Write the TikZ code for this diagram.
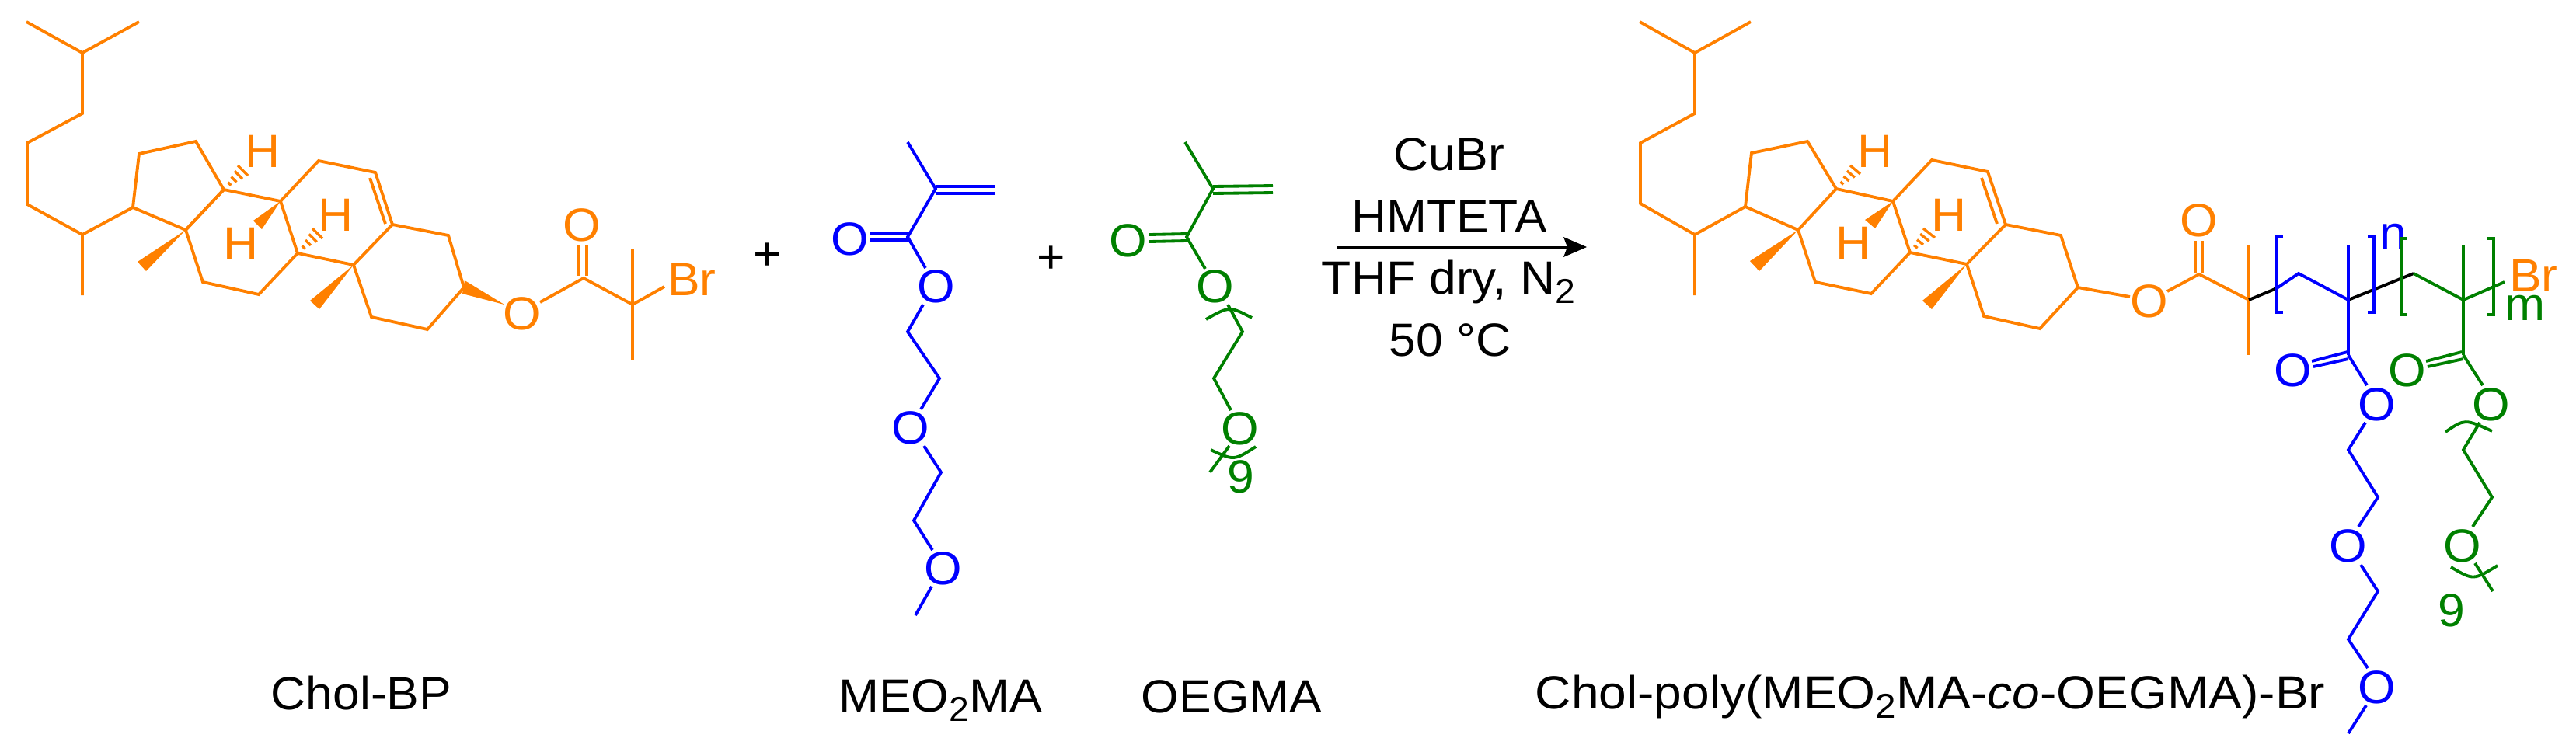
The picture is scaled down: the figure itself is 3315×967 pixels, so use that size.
\documentclass[tikz,border=0pt]{standalone}
\usepackage{fontspec}
\setmainfont[FakeStretch=1.04]{Liberation Sans}
\usetikzlibrary{calc}
\definecolor{cholc}{HTML}{FF8000}
\definecolor{meoc}{HTML}{0000FF}
\definecolor{oegc}{HTML}{008000}
\newcommand{\chemsub}[1]{\raisebox{-2.9pt}{\fontsize{10.7}{12}\selectfont #1}}
% hashed bond: apex, last-dash end A, last-dash end B
\newcommand{\hashbond}[3]{%
  \foreach \f in {0.3,0.53,0.77,1}{%
    \draw[bond,line width=0.8pt] ($#1!\f!#2$) -- ($#1!\f!#3$);}}
\tikzset{
  bond/.style={line width=0.92pt,line join=miter,line cap=butt},
  atom/.style={inner sep=0pt,outer sep=0pt,font=\fontsize{14.4}{16}\selectfont},
  lab/.style={inner sep=0pt,outer sep=0pt,anchor=base,font=\fontsize{14.4}{16}\selectfont,text=black},
}
\begin{document}
\begin{tikzpicture}[x=0.24pt,y=-0.24pt]
\useasboundingbox (0,0) rectangle (3315,967);
%% ---------- Chol-BP ----------
\begin{scope}[color=cholc]
\draw[bond] (34,28) -- (106,68) -- (179,28);
\draw[bond] (106,68) -- (106,146) -- (35,184) -- (35,263) -- (106,302) -- (106,380);
\draw[bond] (106,302) -- (171,267);
\draw[bond] (171,267) -- (179,198) -- (252,182) -- (288,244) -- (239,296) -- cycle;
\draw[bond] (288,244) -- (239,296);
\draw[bond] (288,244) -- (361,259) -- (410,207) -- (483,222) -- (505,289) -- (455,341) -- (383,326) -- (361,259);
\draw[bond] (239,296) -- (261,363) -- (333,379) -- (383,326);
\draw[bond] (476,229) -- (496,288);
\draw[bond] (455,341) -- (478,408) -- (550,424) -- (597,370) -- (577,303) -- (505,289);
\fill[cholc] (239,296) -- (177,337) -- (188,349) -- cycle;
\fill[cholc] (455,341) -- (399,387) -- (411,398) -- cycle;
\fill[cholc] (361,259) -- (326,284) -- (337,295) -- cycle;
\fill[cholc] (598,361) -- (595,378) -- (649,392) -- cycle;
\hashbond{(288,244)}{(306,213)}{(319,226)}
\hashbond{(383,326)}{(402,294)}{(415,307)}
\node[atom,text=cholc] (cH1) at (338,195) {H};
\node[atom,text=cholc] (cH2) at (432,277) {H};
\node[atom,text=cholc] (cH3) at (310,314) {H};
\node[atom,text=cholc] (cO1) at (672,404) {O};
\node[atom,text=cholc] (cO2) at (749,290) {O};
\node[atom,text=cholc,anchor=base west] (cBr) at (859,380) {Br};
\draw[bond] (695,389) -- (751,358) -- (814,392);
\draw[bond] (744,315) -- (744,355);
\draw[bond] (755,315) -- (755,355);
\draw[bond] (814,321) -- (814,463);
\draw[bond] (814,392) -- (855,369);
\end{scope}
\node[atom] (plus1) at (988,330) {+};
\node[atom] (plus2) at (1353,334) {+};
%% ---------- MEO2MA ----------
\begin{scope}[color=meoc]
\draw[bond] (1168,183) -- (1204,243) -- (1168,305) -- (1191,345);
\draw[bond] (1204,240) -- (1281,240);
\draw[bond] (1204,249) -- (1281,249);
\draw[bond] (1120,301) -- (1168,301);
\draw[bond] (1120,309) -- (1168,309);
\node[atom,text=meoc] (mO1) at (1094,308) {O};
\node[atom,text=meoc] (mO2) at (1205,369) {O};
\node[atom,text=meoc] (mO3) at (1172,551) {O};
\node[atom,text=meoc] (mO4) at (1214,732) {O};
\draw[bond] (1188,392) -- (1168,427) -- (1209,487) -- (1185,527);
\draw[bond] (1189,574) -- (1211,608) -- (1176,670) -- (1200,708);
\draw[bond] (1199,755) -- (1178,792);
\end{scope}
%% ---------- OEGMA ----------
\begin{scope}[color=oegc]
\draw[bond] (1525,183) -- (1561,243) -- (1527,305) -- (1551,346);
\draw[bond] (1561,240) -- (1638,239);
\draw[bond] (1561,249) -- (1638,248);
\draw[bond] (1479,302) -- (1527,301);
\draw[bond] (1479,311) -- (1527,310);
\node[atom,text=oegc] (oO1) at (1452,310) {O};
\node[atom,text=oegc] (oO2) at (1564,369) {O};
\node[atom,text=oegc] (oO3) at (1596,552) {O};
\node[atom,text=oegc,anchor=base] (o9) at (1597,634) {9};
\draw[bond] (1580,392) -- (1599,427) -- (1562,487) -- (1584,528);
\draw[bond] (1582,574) -- (1557,608);
\draw[bond] (1552,411) .. controls (1582,394) .. (1611,409);
\draw[bond] (1558,579) .. controls (1588,593) .. (1616,575);
\end{scope}
%% ---------- reaction arrow ----------
\coordinate (arrS) at (1721,318);
\coordinate (arrN) at (2017,318);
\coordinate (arrT) at (2042,318);
\draw[line width=0.72pt] (arrS) -- (arrN);
\fill (arrT) -- (2012,305) -- (arrN) -- (2012,331) -- cycle;
\node[lab] (r1) at (1865,219) {CuBr};
\node[lab] (r2) at (1865,299) {HMTETA};
\node[lab] (r3) at (1864,378) {THF dry, N\chemsub{2}};
\node[lab] (r4) at (1866,458) {50 °C};
%% ---------- product: Chol part ----------
\begin{scope}[color=cholc]
\draw[bond] (2110,28) -- (2181,68) -- (2253,28);
\draw[bond] (2181,68) -- (2181,146) -- (2111,184) -- (2111,262) -- (2181,302) -- (2181,380);
\draw[bond] (2181,302) -- (2246,266);
\draw[bond] (2246,266) -- (2254,197) -- (2326,182) -- (2363,243) -- (2314,296) -- cycle;
\draw[bond] (2363,243) -- (2436,259) -- (2486,206) -- (2558,221) -- (2581,289) -- (2531,340) -- (2458,325) -- (2436,259);
\draw[bond] (2314,296) -- (2336,363) -- (2408,378) -- (2458,325);
\draw[bond] (2550,229) -- (2570,288);
\draw[bond] (2531,340) -- (2553,407) -- (2625,423) -- (2674,370) -- (2652,303) -- (2581,289);
\draw[bond] (2674,370) -- (2741,382);
\fill[cholc] (2314,296) -- (2252,336) -- (2264,349) -- cycle;
\fill[cholc] (2531,340) -- (2474,387) -- (2486,398) -- cycle;
\fill[cholc] (2436,259) -- (2400,283) -- (2413,294) -- cycle;
\hashbond{(2363,243)}{(2381,213)}{(2394,224)}
\hashbond{(2458,325)}{(2475,294)}{(2490,306)}
\node[atom,text=cholc] (pH1) at (2413,195) {H};
\node[atom,text=cholc] (pH2) at (2508,277) {H};
\node[atom,text=cholc] (pH3) at (2385,313) {H};
\node[atom,text=cholc] (pO1) at (2766,388) {O};
\node[atom,text=cholc] (pO2) at (2830,284) {O};
\draw[bond] (2789,375) -- (2830,353) -- (2894,386);
\draw[bond] (2825,310) -- (2825,352);
\draw[bond] (2834,310) -- (2834,352);
\draw[bond] (2894,316) -- (2894,457);
\node[atom,text=cholc,anchor=base west] (pBr) at (3229,375) {Br};
\end{scope}
%% ---------- product: backbone ----------
\draw[bond,black] (2894,386) -- (2930,371);
\draw[bond,black] (3022,386) -- (3106,352);
\begin{scope}[color=meoc]
\draw[bond] (2930,371) -- (2958,352) -- (3022,386);
\draw[bond] (2938,304) -- (2930,304) -- (2930,402) -- (2938,402);
\draw[bond] (3047,304) -- (3055,304) -- (3055,402) -- (3047,402);
\draw[bond] (3022,316) -- (3022,457);
\draw[bond] (2975,465) -- (3021,453);
\draw[bond] (2977,472) -- (3022,462);
\draw[bond] (3022,457) -- (3046,496);
\node[atom,text=meoc,anchor=base] (pn) at (3080,320) {n};
\node[atom,text=meoc] (qO1) at (2951,477) {O};
\node[atom,text=meoc] (qO2) at (3059,521) {O};
\node[atom,text=meoc] (qO3) at (3022,703) {O};
\node[atom,text=meoc] (qO4) at (3059,885) {O};
\draw[bond] (3044,544) -- (3022,579) -- (3060,640) -- (3035,678);
\draw[bond] (3038,727) -- (3060,761) -- (3022,823) -- (3047,860);
\draw[bond] (3045,908) -- (3022,944);
\end{scope}
\begin{scope}[color=oegc]
\draw[bond] (3106,352) -- (3170,386) -- (3223,363);
\draw[bond] (3097,307) -- (3090,307) -- (3090,405) -- (3097,405);
\draw[bond] (3201,307) -- (3209,307) -- (3209,405) -- (3201,405);
\draw[bond] (3170,316) -- (3170,457);
\draw[bond] (3122,465) -- (3168,453);
\draw[bond] (3124,472) -- (3170,462);
\draw[bond] (3170,457) -- (3195,496);
\node[atom,text=oegc,anchor=base west] (pm) at (3223,412) {m};
\node[atom,text=oegc] (sO1) at (3098,477) {O};
\node[atom,text=oegc] (sO2) at (3206,521) {O};
\node[atom,text=oegc] (sO3) at (3169,703) {O};
\node[atom,text=oegc,anchor=base] (s9) at (3155,806) {9};
\draw[bond] (3191,544) -- (3170,579) -- (3207,640) -- (3182,678);
\draw[bond] (3185,725) -- (3208,761);
\draw[bond] (3147,556) .. controls (3172,539) .. (3207,555);
\draw[bond] (3154,730) .. controls (3183,747) .. (3214,728);
\end{scope}
%% ---------- captions ----------
\node[lab] (l1) at (465,913) {Chol-BP};
\node[lab] (l2) at (1210,916) {MEO\chemsub{2}MA};
\node[lab] (l3) at (1585,917) {OEGMA};
\node[lab] (l4) at (2484,912) {\scalebox{1.027}[1]{Chol-poly(MEO\chemsub{2}MA-\textit{co}-OEGMA)-Br}};
\end{tikzpicture}
\end{document}
